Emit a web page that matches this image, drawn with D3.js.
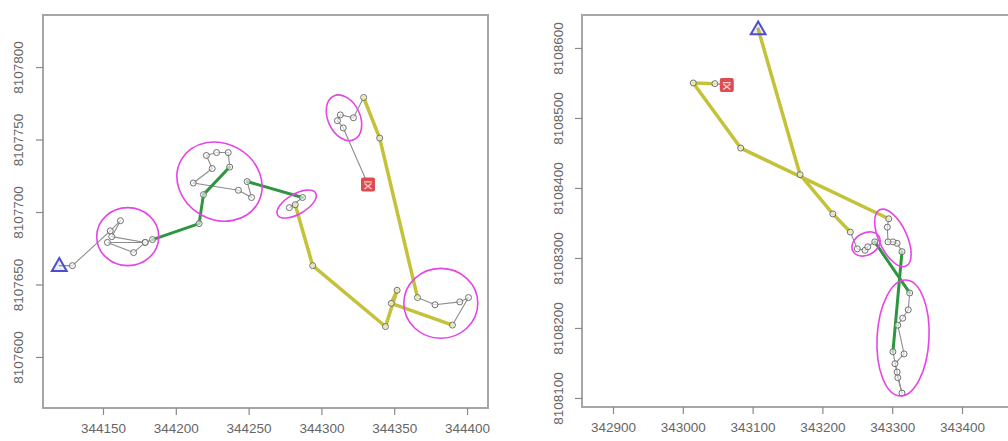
<!DOCTYPE html>
<html>
<head>
<meta charset="utf-8">
<script src="https://cdn.jsdelivr.net/npm/d3@7"></script>
<style>
  html, body { margin: 0; padding: 0; background: #fff; }
  svg { display: block; }
  text { font-family: "Liberation Sans", Arial, sans-serif; }
</style>
</head>
<body>
<svg id="chart" width="1008" height="441"></svg>
<script>
// ---------------- DATA ----------------
// Left track (easting, northing), in order of travel
const leftEast = [344120, 344129, 344155, 344162, 344156, 344179, 344153, 344171, 344179, 344184,
  344216, 344219, 344237, 344236, 344228, 344221, 344225, 344212, 344243, 344252, 344249,
  344287, 344278, 344282, 344294, 344344, 344352, 344348, 344390, 344401, 344395, 344378, 344366,
  344340, 344329, 344322, 344313, 344311, 344315, 344332];
const leftNorth = [8107663, 8107663, 8107687, 8107694, 8107683, 8107679, 8107679, 8107672, 8107679, 8107681,
  8107692, 8107712, 8107731, 8107741, 8107741, 8107739, 8107730, 8107720, 8107715, 8107710, 8107721,
  8107710, 8107703, 8107705, 8107663, 8107621, 8107646, 8107637, 8107622, 8107641, 8107638, 8107636, 8107641,
  8107751, 8107779, 8107765, 8107767, 8107763, 8107758, 8107719];
// behavioural state of each step (between consecutive fixes)
const leftState = ["slow","slow","slow","slow","slow","slow","slow","slow","slow",
  "mid","mid","mid",
  "slow","slow","slow","slow","slow","slow","slow","slow",
  "mid",
  "slow","slow",
  "fast","fast","fast","fast","fast",
  "slow","slow","slow","slow",
  "fast","fast",
  "slow","slow","slow","slow","slow"];
// Left clusters: centre, semi-axes (map units), tilt (deg)
const leftEllCx = [344167, 344230, 344283, 344382, 344315.5];
const leftEllCy = [8107683, 8107721, 8107705.5, 8107637, 8107765];
const leftEllRx = [21.3, 30.2, 15.1, 25.4, 11.0];
const leftEllRy = [20.0, 26.2, 6.9, 24.1, 16.6];
const leftEllAngle = [0, 30, -30, 0, -25];
const leftXTicks = [344150, 344200, 344250, 344300, 344350, 344400];
const leftYTicks = [8107600, 8107650, 8107700, 8107750, 8107800];
const leftXLim = [344108.8, 344414.4];
const leftYLim = [8107564.8, 8107835.9];

// Right track
const rightEast = [343108, 343168, 343215, 343240, 343250, 343261, 343265, 343275,
  343325, 343323, 343315, 343308, 343317, 343304, 343314, 343308, 343307, 343301,
  343314, 343307, 343301, 343294, 343293, 343295, 343083, 343015, 343046, 343063];
const rightNorth = [8108627, 8108419, 8108363, 8108337, 8108313, 8108311, 8108316, 8108323,
  8108250, 8108226, 8108214, 8108204, 8108163, 8108149, 8108107, 8108129, 8108137, 8108166,
  8108309, 8108321, 8108323, 8108323, 8108344, 8108356, 8108457, 8108550, 8108549, 8108547];
const rightState = ["fast","fast","fast",
  "slow","slow","slow","slow",
  "mid",
  "slow","slow","slow","slow","slow","slow","slow","slow","slow",
  "mid",
  "slow","slow","slow","slow","slow",
  "fast","fast","fast",
  "slow"];
const rightEllCx = [343262.5, 343301, 343315.5];
const rightEllCy = [8108320, 8108328.6, 8108185.7];
const rightEllRx = [21.5, 20, 37.2];
const rightEllRy = [15.7, 44.3, 82.9];
const rightEllAngle = [-30, -25, 3];
const rightXTicks = [342900, 343000, 343100, 343200, 343300, 343400];
const rightYTicks = [8108100, 8108200, 8108300, 8108400, 8108500, 8108600];
const rightXLim = [342855.6, 343497.4];
const rightYLim = [8108087.1, 8108647.1];

// ---------------- STYLE ----------------
const stateColor = { slow: "#8c8c8c", mid: "#2f9640", fast: "#c3c238" };
const stateWidth = { slow: 1.1, mid: 3, fast: 3.5 };

const svg = d3.select("#chart");

function panel(cfg) {
  const x = d3.scaleLinear().domain(cfg.xLim).range([cfg.left, cfg.right]);
  const y = d3.scaleLinear().domain(cfg.yLim).range([cfg.bottom, cfg.top]);
  const g = svg.append("g");

  // segments
  const pts = cfg.east.map((e, i) => ({ e, n: cfg.north[i] }));
  const segs = cfg.state.map((s, i) => ({ a: pts[i], b: pts[i + 1], s }));
  const order = ["slow", "fast", "mid"];
  g.append("g").selectAll("line")
    .data(segs.slice().sort((p, q) => order.indexOf(p.s) - order.indexOf(q.s)))
    .join("line")
    .attr("x1", d => x(d.a.e)).attr("y1", d => y(d.a.n))
    .attr("x2", d => x(d.b.e)).attr("y2", d => y(d.b.n))
    .attr("stroke", d => stateColor[d.s])
    .attr("stroke-width", d => stateWidth[d.s])
    .attr("stroke-linecap", "round");

  // points
  g.append("g").selectAll("circle")
    .data(pts.slice(1, -1))
    .join("circle")
    .attr("cx", d => x(d.e)).attr("cy", d => y(d.n)).attr("r", 3)
    .attr("fill", "#fff").attr("fill-opacity", 0.6)
    .attr("stroke", "#6f6f6f").attr("stroke-width", 1);

  // cluster ellipses
  const ells = cfg.ellCx.map((cx, i) => ({ cx, cy: cfg.ellCy[i], rx: cfg.ellRx[i], ry: cfg.ellRy[i], a: cfg.ellAngle[i] }));
  g.append("g").selectAll("ellipse")
    .data(ells)
    .join("ellipse")
    .attr("transform", d => `translate(${x(d.cx)},${y(d.cy)}) rotate(${d.a})`)
    .attr("rx", d => x(d.cx + d.rx) - x(d.cx))
    .attr("ry", d => y(d.cy) - y(d.cy + d.ry))
    .attr("fill", "none").attr("stroke", "#e645e6").attr("stroke-width", 1.6);

  // start triangle
  const s = pts[0];
  g.append("path")
    .attr("d", d3.symbol(d3.symbolTriangle, 95)())
    .attr("transform", `translate(${x(s.e)},${y(s.n) + 1})`)
    .attr("fill", "rgba(120,120,230,0.15)").attr("stroke", "#4e4ec8").attr("stroke-width", 2);

  // end square
  const t = pts[pts.length - 1];
  const eg = g.append("g").attr("transform", `translate(${x(t.e)},${y(t.n)})`);
  eg.append("rect").attr("x", -7).attr("y", -7).attr("width", 14).attr("height", 14).attr("rx", 2)
    .attr("fill", "#de4b50");
  eg.append("path").attr("d", "M-3.5,-1 L3.5,4.5 M3.5,-1 L-3.5,4.5 M-4,-2.5 L4,-2.5")
    .attr("stroke", "#fbd0d0").attr("stroke-width", 1.3).attr("fill", "none");

  // box
  svg.append("rect")
    .attr("x", cfg.left).attr("y", cfg.top)
    .attr("width", cfg.right - cfg.left).attr("height", cfg.bottom - cfg.top)
    .attr("fill", "none").attr("stroke", "#a6a6a6").attr("stroke-width", 2);

  // axes
  const xa = svg.append("g").attr("transform", `translate(0,${cfg.bottom})`)
    .call(d3.axisBottom(x).tickValues(cfg.xTicks).tickFormat(d3.format("d")).tickSize(7).tickPadding(8));
  const ya = svg.append("g").attr("transform", `translate(${cfg.left},0)`)
    .call(d3.axisLeft(y).tickValues(cfg.yTicks).tickFormat(d3.format("d")).tickSize(7));
  [xa, ya].forEach(a => {
    a.select(".domain").remove();
    a.selectAll("line").attr("stroke", "#8a8a8a").attr("stroke-width", 1.2);
    a.selectAll("text").attr("fill", "#666").attr("font-size", 13.5)
      .attr("font-family", "'Liberation Sans', Arial, sans-serif");
  });
  // tick groups are already translated to y(d); only shift horizontally and rotate
  ya.selectAll("text")
    .attr("text-anchor", "middle")
    .attr("transform", `translate(${cfg.yLabelX - cfg.left},0) rotate(-90)`)
    .attr("x", 0).attr("y", 0).attr("dy", "0.35em");
}

panel({ east: leftEast, north: leftNorth, state: leftState,
  ellCx: leftEllCx, ellCy: leftEllCy, ellRx: leftEllRx, ellRy: leftEllRy, ellAngle: leftEllAngle,
  xTicks: leftXTicks, yTicks: leftYTicks, xLim: leftXLim, yLim: leftYLim,
  left: 43, right: 488, top: 15, bottom: 408, yLabelX: 18 });

panel({ east: rightEast, north: rightNorth, state: rightState,
  ellCx: rightEllCx, ellCy: rightEllCy, ellRx: rightEllRx, ellRy: rightEllRy, ellAngle: rightEllAngle,
  xTicks: rightXTicks, yTicks: rightYTicks, xLim: rightXLim, yLim: rightYLim,
  left: 582, right: 1030, top: 15, bottom: 407, yLabelX: 558 });
</script>
</body>
</html>
